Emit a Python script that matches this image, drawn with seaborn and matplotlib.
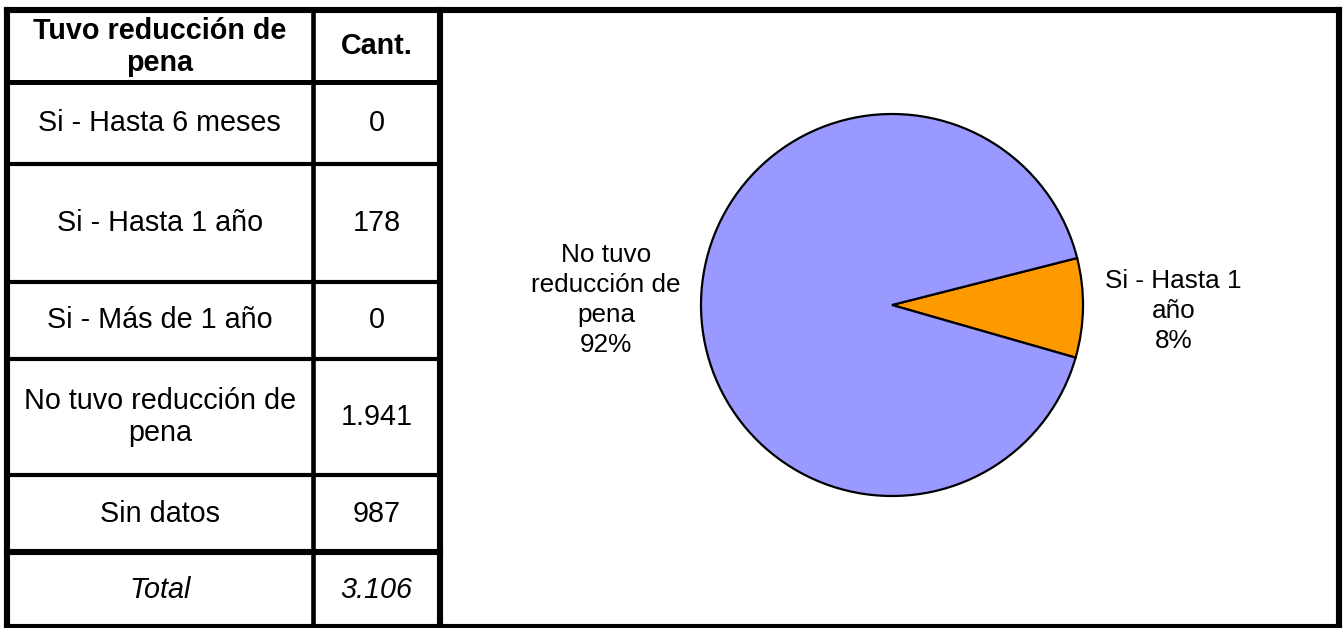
import matplotlib
matplotlib.use("Agg")
import matplotlib.pyplot as plt
import seaborn as sns

sns.set_theme(style="white")
plt.rcParams['font.family'] = ['Liberation Sans', 'DejaVu Sans']
plt.rcParams['text.color'] = 'black'

# ---------------- data ----------------
header_labels = ["Tuvo reducción de\npena", "Cant."]
categories = ["Si - Hasta 6 meses", "Si - Hasta 1 año", "Si - Más de 1 año",
              "No tuvo reducción de pena", "Sin datos"]
table_labels = ["Si - Hasta 6 meses", "Si - Hasta 1 año", "Si - Más de 1 año",
                "No tuvo reducción de\npena", "Sin datos"]
counts = [0, 178, 0, 1941, 987]
total_label = "Total"
total_value = 3106

pie_categories = ["Si - Hasta 1 año", "No tuvo reducción de pena"]
pie_values = [178, 1941]
pie_label_text = ["Si - Hasta 1\naño", "No tuvo\nreducción de\npena"]
pie_colors = ["#FF9900", "#9999FF"]


def fmt(v):
    return f"{v:,}".replace(",", ".")


W, H = 1343, 628
fig = plt.figure(figsize=(W / 100, H / 100), dpi=100)
fig.patch.set_facecolor("white")

# ---------------- table / frame overlay ----------------
ax = fig.add_axes([0, 0, 1, 1])
ax.set_xlim(0, W)
ax.set_ylim(H, 0)
ax.axis("off")

row_edges = [10, 82, 164, 282, 359, 475, 552, 627]
col_edges = [6.5, 313, 440]
x_right = 1339

outer_lw = 4.4
thin_lw = 3.0


def hline(y, x0, x1, lw):
    ax.plot([x0, x1], [y, y], color="black", lw=lw, solid_capstyle="projecting")


def vline(x, y0, y1, lw):
    ax.plot([x, x], [y0, y1], color="black", lw=lw, solid_capstyle="projecting")


# outer frame
hline(row_edges[0], col_edges[0], x_right, outer_lw)
hline(row_edges[-1], col_edges[0], x_right, outer_lw)
vline(col_edges[0], row_edges[0], row_edges[-1], outer_lw)
vline(x_right, row_edges[0], row_edges[-1], outer_lw)
# table right border
vline(col_edges[2], row_edges[0], row_edges[-1], outer_lw)
# column separator
vline(col_edges[1], row_edges[0], row_edges[-1], thin_lw + 0.3)
# row lines
for i, y in enumerate(row_edges[1:-1]):
    if i == 0:
        lw = 3.6
    elif i == len(row_edges) - 3:
        lw = outer_lw
    else:
        lw = thin_lw
    hline(y, col_edges[0], col_edges[2], lw)

fs_table = 20.7
cx0 = (col_edges[0] + col_edges[1]) / 2
cx1 = (col_edges[1] + col_edges[2]) / 2

# header
yc = (row_edges[0] + row_edges[1]) / 2
ax.text(cx0, yc + 1, header_labels[0], ha="center", va="center", fontsize=fs_table,
        fontweight="bold", linespacing=1.14, color="black")
ax.text(cx1, yc, header_labels[1], ha="center", va="center", fontsize=fs_table,
        fontweight="bold", color="black")

# body
for i, (lab, val) in enumerate(zip(table_labels, counts)):
    yc = (row_edges[i + 1] + row_edges[i + 2]) / 2
    ax.text(cx0, yc, lab, ha="center", va="center", fontsize=fs_table, linespacing=1.16,
            color="black")
    ax.text(cx1, yc, fmt(val), ha="center", va="center", fontsize=fs_table, color="black")

# total
yc = (row_edges[-2] + row_edges[-1]) / 2
ax.text(cx0, yc, total_label, ha="center", va="center", fontsize=fs_table, style="italic",
        color="black")
ax.text(cx1, yc, fmt(total_value), ha="center", va="center", fontsize=fs_table,
        style="italic", color="black")

# ---------------- pie ----------------
cx, cy, R = 892, 305, 191
hw, hh = 350, 290
axp = fig.add_axes([(cx - hw) / W, (H - cy - hh) / H, 2 * hw / W, 2 * hh / H])
axp.pie(pie_values, colors=pie_colors, startangle=-16, counterclock=True,
        radius=1, wedgeprops=dict(edgecolor="black", linewidth=1.6))
axp.set_xlim(-hw / R, hw / R)
axp.set_ylim(-hh / R, hh / R)
axp.set_aspect("equal", adjustable="box")
axp.axis("off")

tot = sum(pie_values)
label_pos = [((1173.5 - cx) / R, (cy - 311) / R), ((606 - cx) / R, (cy - 300) / R)]
for txt, v, (lx, ly) in zip(pie_label_text, pie_values, label_pos):
    pct = round(100 * v / tot)
    axp.text(lx, ly, f"{txt}\n{pct}%", ha="center", va="center", fontsize=18.8,
             linespacing=1.3, color="black")

fig.savefig("out.png", dpi=100, facecolor="white")
